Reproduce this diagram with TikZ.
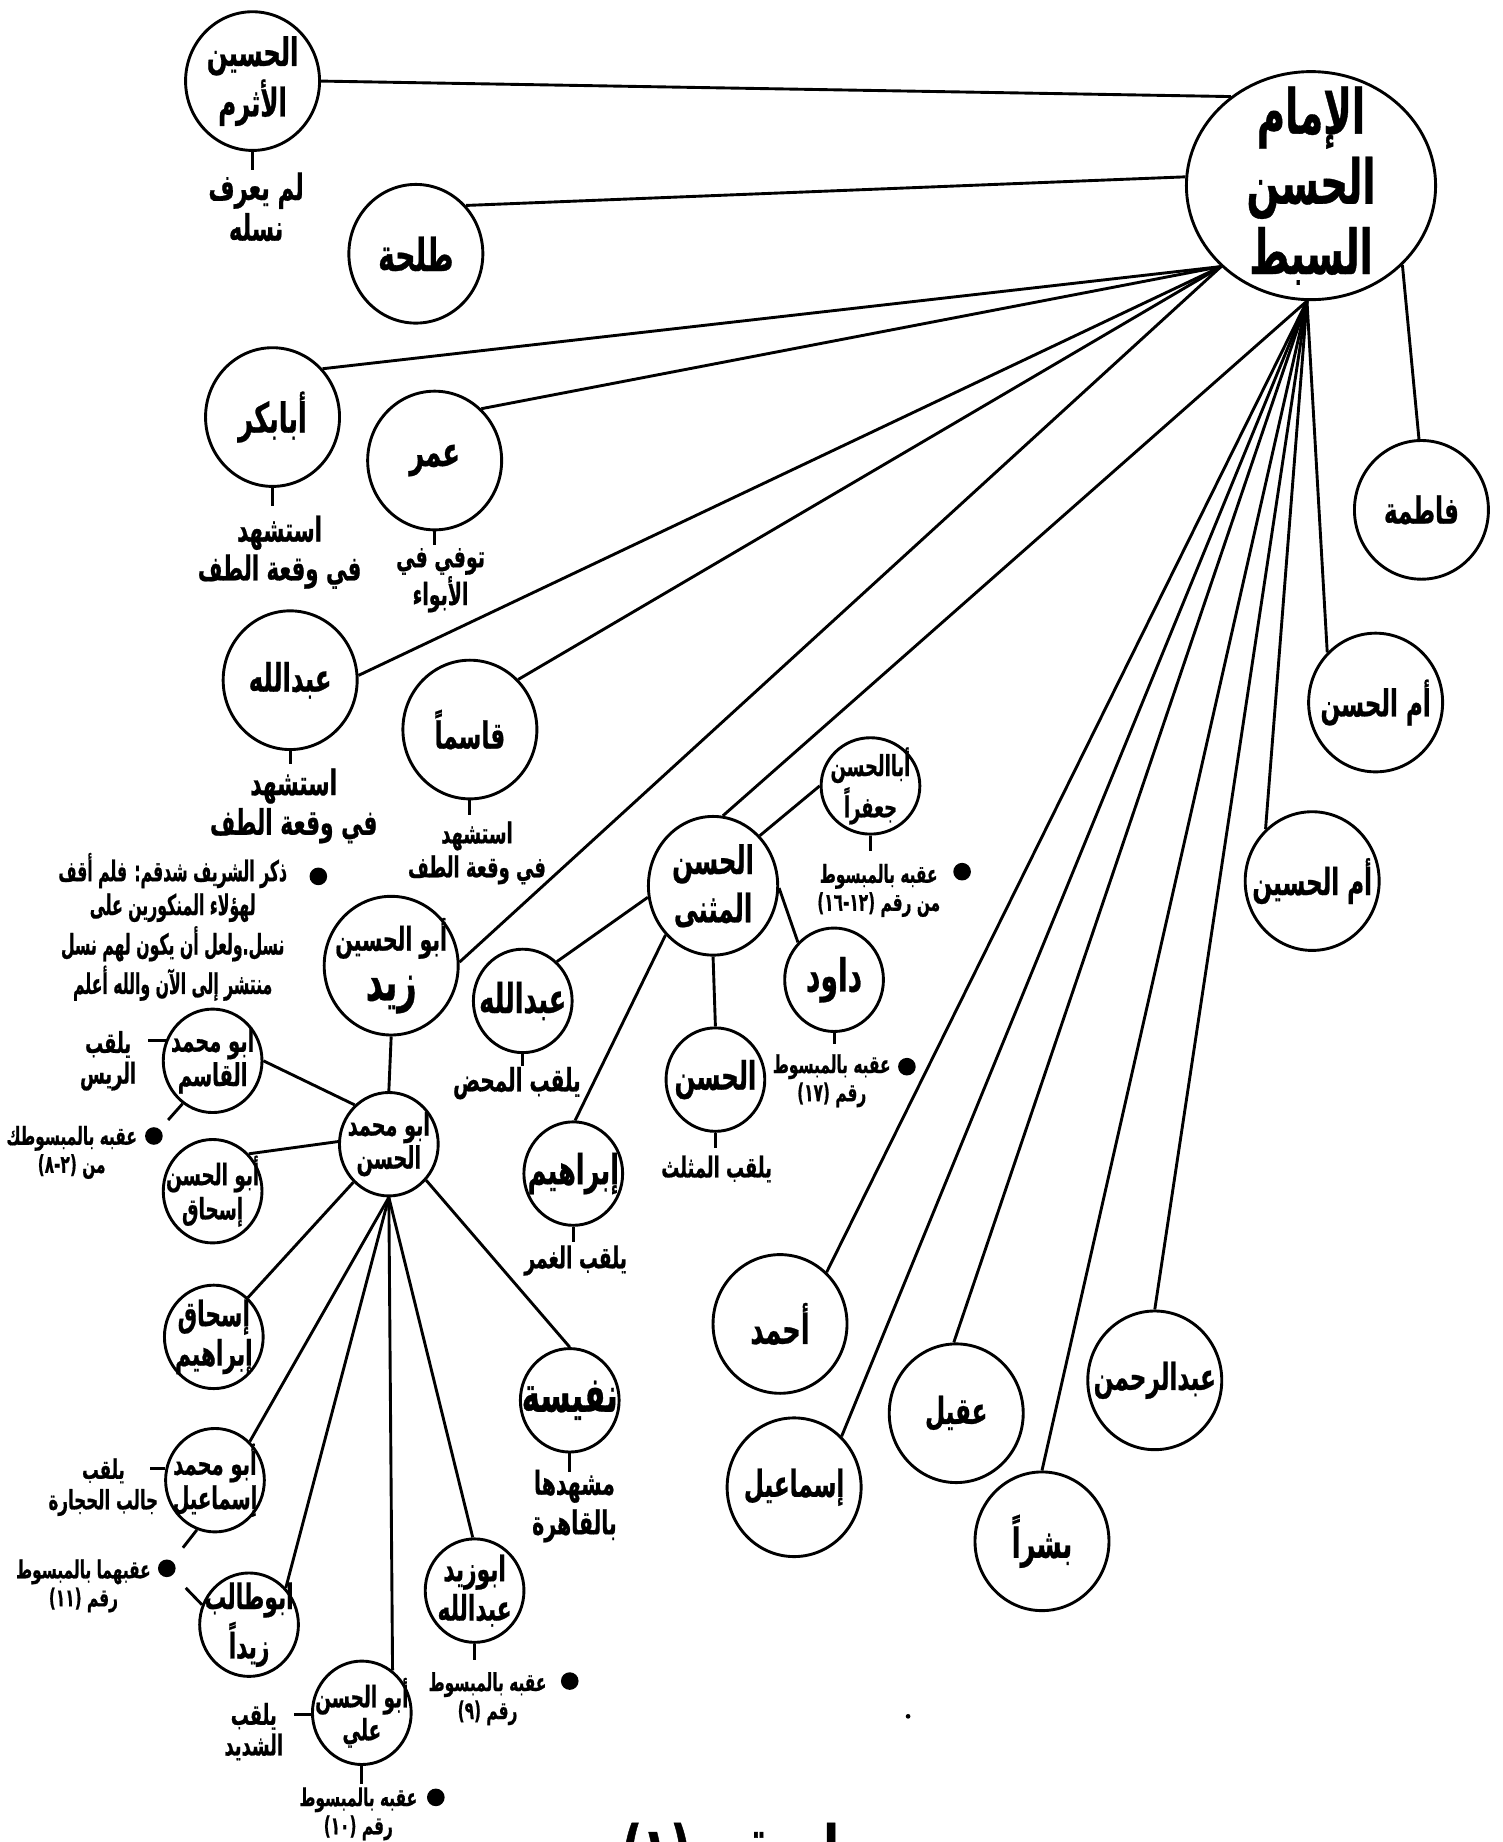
\documentclass[tikz,border=0pt]{standalone}
\usepackage{fontspec}
\newfontfamily\arabicfont[Script=Arabic, FakeStretch=0.62, BoldFeatures={FakeBold=0.6}]{DejaVu Sans}
\newfontfamily\arabicnarrow[Script=Arabic, FakeStretch=0.55, BoldFeatures={FakeBold=0.6}]{DejaVu Sans}
\TeXXeTstate=1
\usetikzlibrary{shapes.geometric}

\newcommand{\arsize}[2]{\arabicfont\bfseries\fontsize{#1}{#2}\selectfont}

\tikzset{
  link/.style={line width=0.7pt},
  person/.style={ellipse, draw, line width=0.7pt, inner sep=0pt,
    minimum width=1.14cm, minimum height=1.18cm},
  kid/.style={person, minimum width=0.84cm, minimum height=0.88cm},
  sayf/.style n args={3}{label={[align=center, inner sep=0pt, font=\arsize{#1}{#2}]center:{#3}}},
  note/.style={align=center, inner sep=0pt, font=\arsize{8.5}{9.4}},
  smallnote/.style={align=center, inner sep=0pt, font=\arsize{6}{6.8}},
  dot/.style={circle, fill, inner sep=0pt, minimum size=0.15cm}
}

\begin{document}
\begin{tikzpicture}[x=0.01cm, y=-0.01cm]
  \useasboundingbox (0,0) rectangle (1279,1568);

  % root
  \node[person, minimum width=2.12cm, minimum height=1.94cm,
    sayf={15}{17}{\beginR الإمام\endR\\\beginR الحسن\endR\\\beginR السبط\endR}] (root) at (1116,158) {};

  % children of the root
  \node[person, sayf={9.5}{12.2}{\beginR الحسين\endR\\\beginR الأثرم\endR}] (husayn) at (215,69) {};
  \node[person, sayf={11}{12}{\beginR طلحة\endR}] (talha) at (354,216) {};
  \node[person, sayf={10}{12}{\beginR أبابكر\endR}] (abubakr) at (232,355) {};
  \node[person, sayf={10}{12}{\beginR عمر\endR}] (omar) at (370,392) {};
  \node[person, sayf={9.5}{12}{\beginR عبدالله\endR}] (abdullah) at (247,579) {};
  \node[person, sayf={9}{12}{\beginR قاسماً\endR}] (qasim) at (400,621) {};
  \node[person, sayf={8}{10}{\beginR أبو الحسين\endR\\[2pt]{\fontsize{13}{14}\selectfont\beginR زيد\endR}}] (zayd) at (333,822) {};
  \node[person, minimum width=1.1cm, sayf={9.5}{11.7}{\beginR الحسن\endR\\\beginR المثنى\endR}] (muthanna) at (607,754) {};
  \node[person, sayf={9}{12}{\beginR فاطمة\endR}] (fatima) at (1210,434) {};
  \node[person, sayf={9}{12}{\beginR أم الحسن\endR}] (ummhasan) at (1171,598) {};
  \node[person, sayf={9}{12}{\beginR أم الحسين\endR}] (ummhusayn) at (1117,750) {};
  \node[person, sayf={10}{12}{\beginR أحمد\endR}] (ahmad) at (664,1127) {};
  \node[person, sayf={9}{12}{\beginR إسماعيل\endR}] (ismail) at (676,1266) {};
  \node[person, sayf={9}{12}{\beginR عقيل\endR}] (aqil) at (814,1203) {};
  \node[person, sayf={10}{12}{\beginR بشراً\endR}] (bushra) at (887,1312) {};
  \node[person, sayf={9}{12}{\beginR عبدالرحمن\endR}] (abdrahman) at (983,1175) {};

  % grandchildren
  \node[kid, minimum height=0.82cm, sayf={7}{7.6}{\beginR أباالحسن\endR\\\beginR جعفراً\endR}] (jafar) at (741,669) {};
  \node[kid, sayf={10}{10}{\beginR عبدالله\endR}] (mahd) at (445,852) {};
  \node[kid, sayf={11}{11}{\beginR داود\endR}] (dawud) at (710,834) {};
  \node[kid, sayf={9.5}{10}{\beginR الحسن\endR}] (muthallath) at (609,919) {};
  \node[kid, sayf={10}{10}{\beginR إبراهيم\endR}] (ibrahim) at (488,999) {};
  \node[kid, sayf={7.5}{8}{\beginR ابو محمد\endR\\\beginR الحسن\endR}] (abumuhammad) at (331,974) {};
  \node[kid, sayf={7.6}{8.3}{\beginR ابو محمد\endR\\\beginR القاسم\endR}] (qasimr) at (181,903) {};
  \node[kid, sayf={7.2}{8.3}{\beginR أبو الحسن\endR\\\beginR إسحاق\endR}] (ishaq) at (181,1014) {};
  \node[kid, sayf={8.5}{8.5}{\beginR إسحاق\endR\\\beginR إبراهيم\endR}] (ishaqibr) at (182,1138) {};
  \node[kid, sayf={7.6}{8.3}{\beginR أبو محمد\endR\\\beginR إسماعيل\endR}] (ismailj) at (183,1260) {};
  \node[kid, sayf={8.5}{8.5}{\beginR ابوطالب\endR\\\beginR زيداً\endR}] (abutalib) at (212,1383) {};
  \node[kid, sayf={7.2}{8}{\beginR أبو الحسن\endR\\\beginR علي\endR}] (ali) at (308,1458) {};
  \node[kid, sayf={8.5}{8}{\beginR ابوزيد\endR\\\beginR عبدالله\endR}] (abuzayd) at (404,1354) {};
  \node[kid, sayf={12}{12}{\beginR نفيسة\endR}] (nafisa) at (485,1192) {};

  % links from the root
  \draw[link] (root.132) -- (husayn.east);
  \draw[link] (root.176) -- (talha.44);
  \foreach \k/\a in {abubakr/44, omar/48, abdullah/4, qasim/46, zayd/3}
    \draw[link] (root.222) -- (\k.\a);
  \foreach \k/\a in {muthanna/82, ahmad/48, ismail/47, aqil/92, bushra/90,
                     abdrahman/90, ummhusayn/132, ummhasan/134}
    \draw[link] (root.-92) -- (\k.\a);
  \draw[link] (root.-41) -- (fatima.92);

  % al-Hasan al-Muthanna
  \draw[link] (muthanna.47) -- (jafar.180);
  \draw[link] (muthanna.190) -- (mahd.49);
  \draw[link] (muthanna.226) -- (ibrahim.88);
  \draw[link] (muthanna.south) -- (muthallath.north);
  \draw[link] (muthanna.-2) -- (dawud.134);

  % Zayd and his son
  \draw[link] (zayd.south) -- (abumuhammad.north);
  \draw[link] (abumuhammad.131) -- (qasimr.0);
  \draw[link] (abumuhammad.177) -- (ishaq.46);
  \draw[link] (abumuhammad.227) -- (ishaqibr.49);
  \foreach \k/\a in {ismailj/48, abutalib/45, ali/54, abuzayd/92}
    \draw[link] (abumuhammad.-90) -- (\k.\a);
  \draw[link] (abumuhammad.-44) -- (nafisa.90);

  % notes under the circles
  \node[note, font=\arsize{8.8}{8.8}] (husaynnote) at (218,176) {\beginR لم يعرف\endR\\\beginR نسله\endR};
  \node[note, font=\arsize{8.3}{9.4}] (abubakrnote) at (238,470) {\beginR استشهد\endR\\\beginR في وقعة الطف\endR};
  \node[note, font=\arsize{7.4}{9.1}] (omarnote) at (375,494) {\beginR توفي في\endR\\\beginR الأبواء\endR};
  \node[note, font=\arsize{8.5}{9.6}] (abdullahnote) at (250,686) {\beginR استشهد\endR\\\beginR في وقعة الطف\endR};
  \node[note, font=\arsize{7}{8.2}] (qasimnote) at (406,726) {\beginR استشهد\endR\\\beginR في وقعة الطف\endR};
  \node[note, font=\arsize{7.8}{8}] (mahdnote) at (440,922) {\beginR يلقب المحض\endR};
  \node[note, font=\arsize{7.3}{8}] (ibrahimnote) at (490,1073) {\beginR يلقب الغمر\endR};
  \node[note, font=\arsize{7}{8}] (muthallathnote) at (610,995) {\beginR يلقب المثلث\endR};
  \node[note, font=\arsize{8}{9.6}] (nafisanote) at (489,1282) {\beginR مشهدها\endR\\\beginR بالقاهرة\endR};
  \node[note, font=\arabicnarrow\bfseries\fontsize{6.9}{8.2}\selectfont] (sharif) at (147,789)
    {\beginR ذكر الشريف شدقم: فلم أقف\endR\\\beginR لهؤلاء المنكورين على\endR\\\beginR نسل.ولعل أن يكون لهم نسل\endR\\\beginR منتشر إلى الآن والله أعلم\endR};

  \node[smallnote] (jafarnote) at (748,758) {\beginR عقبه بالمبسوط\endR\\\beginR من رقم \beginL(١٢-١٦)\endL\endR};
  \node[smallnote] (dawudnote) at (708,920) {\beginR عقبه بالمبسوط\endR\\\beginR رقم \beginL(١٧)\endL\endR};
  \node[smallnote] (abuzaydnote) at (415,1446) {\beginR عقبه بالمبسوط\endR\\\beginR رقم \beginL(٩)\endL\endR};
  \node[smallnote] (alinote) at (305,1544) {\beginR عقبه بالمبسوط\endR\\\beginR رقم \beginL(١٠)\endL\endR};
  \node[smallnote] (qasimrnote) at (61,981) {\beginR عقبه بالمبسوطك\endR\\\beginR من \beginL(٢-٨)\endL\endR};
  \node[smallnote] (ismailjnote) at (71,1350) {\beginR عقبهما بالمبسوط\endR\\\beginR رقم \beginL(١١)\endL\endR};
  \node[smallnote, font=\arsize{7}{7.4}] (qasimrtitle) at (92,903) {\beginR يلقب\endR\\\beginR الريس\endR};
  \node[smallnote, font=\arsize{6.5}{7.4}] (ismailjtitle) at (88,1266) {\beginR يلقب\endR\\\beginR جالب الحجارة\endR};
  \node[smallnote, font=\arsize{7}{7.4}] (alititle) at (216,1474) {\beginR يلقب\endR\\\beginR الشديد\endR};

  % dots
  \node[dot] (shariflead) at (271,746) {};
  \node[dot] (jafardot) at (819,742) {};
  \node[dot] (dawuddot) at (772,908) {};
  \node[dot] (qasimrdot) at (131,967) {};
  \node[dot] (ismailjdot) at (142,1335) {};
  \node[dot] (abuzayddot) at (485,1431) {};
  \node[dot] (alidot) at (371,1530) {};
  \node[dot, minimum size=0.04cm] (speck) at (773,1461) {};

  % short ticks
  \coordinate (husayntick) at (215,145);
  \coordinate (abubakrtick) at (232,431);
  \coordinate (omartick) at (370,464);
  \coordinate (abdullahtick) at (247,650);
  \coordinate (qasimtick) at (400,694);
  \coordinate (mahdtick) at (445,907);
  \coordinate (ibrahimtick) at (488,1057);
  \coordinate (muthallathtick) at (609,977);
  \coordinate (jafartick) at (741,724);
  \coordinate (dawudtick) at (710,889);
  \coordinate (nafisatick) at (485,1253);
  \coordinate (abuzaydtick) at (404,1413);
  \coordinate (alitick) at (308,1519);
  \foreach \k in {husayn, abubakr, omar, abdullah, qasim, mahd, ibrahim,
                  muthallath, jafar, dawud, nafisa, abuzayd, ali}
    \draw[link] (\k.south) -- (\k tick);

  \coordinate (qasimrside) at (126,886);
  \coordinate (ismailjside) at (128,1251);
  \coordinate (aliside) at (250,1460);
  \draw[link] (qasimr.157) -- (qasimr.157 -| qasimrside);
  \draw[link] (ismailj.167) -- (ismailj.167 -| ismailjside);
  \draw[link] (ali.182) -- (ali.182 -| aliside);

  \draw[link, shorten >=0.1cm] (qasimr.235) -- (qasimrdot);
  \draw[link, shorten >=0.14cm] (ismailj.-110) -- (ismailjdot);
  \draw[link, shorten >=0.15cm] (abutalib.157) -- (ismailjdot);

  % title, cut by the lower edge
  \node[font=\arsize{18}{20}, anchor=north west, inner sep=0pt] (title) at (528,1551) {\beginR مبسوط رقم \beginL(١)\endL\endR};
\end{tikzpicture}
\end{document}
